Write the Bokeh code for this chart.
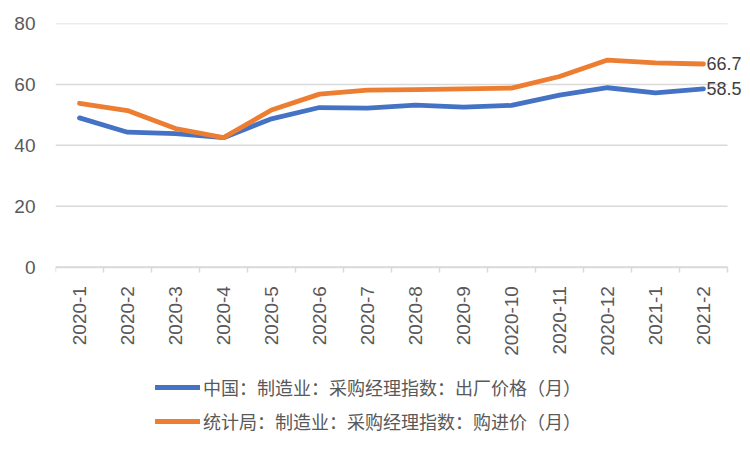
import math
from bokeh.plotting import figure
from bokeh.models import (ColumnDataSource, FixedTicker, Legend, LegendItem, Range1d)
from bokeh.core.properties import value
from bokeh.embed import file_html
from bokeh.resources import INLINE

months = ["2020-1", "2020-2", "2020-3", "2020-4", "2020-5", "2020-6", "2020-7",
          "2020-8", "2020-9", "2020-10", "2020-11", "2020-12", "2021-1", "2021-2"]
output_price = [49.0, 44.3, 43.8, 42.5, 48.7, 52.4, 52.2, 53.2, 52.5, 53.1, 56.5, 58.9, 57.2, 58.5]
input_price = [53.8, 51.4, 45.5, 42.5, 51.6, 56.8, 58.1, 58.3, 58.5, 58.8, 62.6, 68.0, 67.1, 66.7]
name_output = "中国：制造业：采购经理指数：出厂价格（月）"
name_input = "统计局：制造业：采购经理指数：购进价（月）"
y_ticks = [0, 20, 40, 60, 80]

BLUE = "#4472C4"
ORANGE = "#ED7D31"
GRID = "#D9D9D9"
TXT = "#595959"
NUM_FONT = "Liberation Sans"
CJK_FONT = "Noto Sans CJK SC"

n = len(months)
idx = list(range(n))
src = ColumnDataSource(dict(x=idx, out=output_price, inp=input_price))

x_lo, x_hi = -0.5, n - 0.5
# the frame extends below zero to hold the rotated labels and the legend
p = figure(frame_width=690, frame_height=427, output_backend="svg", toolbar_location=None,
           x_range=Range1d(x_lo, x_hi + 0.375), y_range=Range1d(-60.25, 80),
           min_border_left=55, min_border_right=0, min_border_top=23,
           min_border_bottom=0)
p.outline_line_color = None
p.background_fill_color = "white"

# horizontal grid lines spanning only the category area
p.segment(x0=[x_lo] * len(y_ticks), x1=[x_hi] * len(y_ticks), y0=y_ticks, y1=y_ticks,
          line_color=GRID, line_width=1.5)

r_out = p.line("x", "out", source=src, line_color=BLUE, line_width=4.8,
               line_join="round", line_cap="round")
r_inp = p.line("x", "inp", source=src, line_color=ORANGE, line_width=4.8,
               line_join="round", line_cap="round")

last = n - 1
p.text(x=[last, last], y=[input_price[last], output_price[last]],
       text=[f"{input_price[last]:.1f}", f"{output_price[last]:.1f}"],
       x_offset=3, text_baseline="middle", text_align="left",
       text_font=value(NUM_FONT), text_font_size="18px", text_color="#404040")

# x axis, fixed at y = 0
xa = p.xaxis[0]
xa.fixed_location = 0
xa.bounds = (x_lo, x_hi)
xa.ticker = FixedTicker(ticks=idx, minor_ticks=[i - 0.5 for i in range(n + 1)])
xa.major_label_overrides = {i: m for i, m in enumerate(months)}
xa.major_label_orientation = math.pi / 2
xa.major_tick_line_color = None
xa.major_tick_out = 0
xa.major_tick_in = 0
xa.minor_tick_line_color = GRID
xa.minor_tick_out = 5
xa.minor_tick_in = 0
xa.axis_line_color = GRID
xa.axis_line_width = 1.5
xa.minor_tick_line_width = 1.5
xa.major_label_standoff = 14
xa.major_label_text_font = NUM_FONT
xa.major_label_text_font_size = "19px"
xa.major_label_text_color = TXT

# y axis
ya = p.yaxis[0]
ya.ticker = FixedTicker(ticks=y_ticks)
ya.axis_line_color = None
ya.major_tick_line_color = None
ya.minor_tick_line_color = None
ya.major_tick_out = 0
ya.major_label_standoff = 20
ya.major_label_text_font = NUM_FONT
ya.major_label_text_font_size = "19px"
ya.major_label_text_color = TXT

p.xgrid.grid_line_color = None
p.ygrid.grid_line_color = None

legend = Legend(items=[LegendItem(label=name_output, renderers=[r_out]),
                       LegendItem(label=name_input, renderers=[r_inp])],
                orientation="vertical", location=(100, 16),
                label_text_font=CJK_FONT, label_text_font_size="18px",
                label_text_color=TXT, glyph_width=45, glyph_height=20,
                label_height=20, spacing=8, label_standoff=3,
                border_line_color=None, background_fill_alpha=0,
                padding=4, margin=0)
p.add_layout(legend, "center")

open("out.html", "w").write(file_html(p, INLINE))
